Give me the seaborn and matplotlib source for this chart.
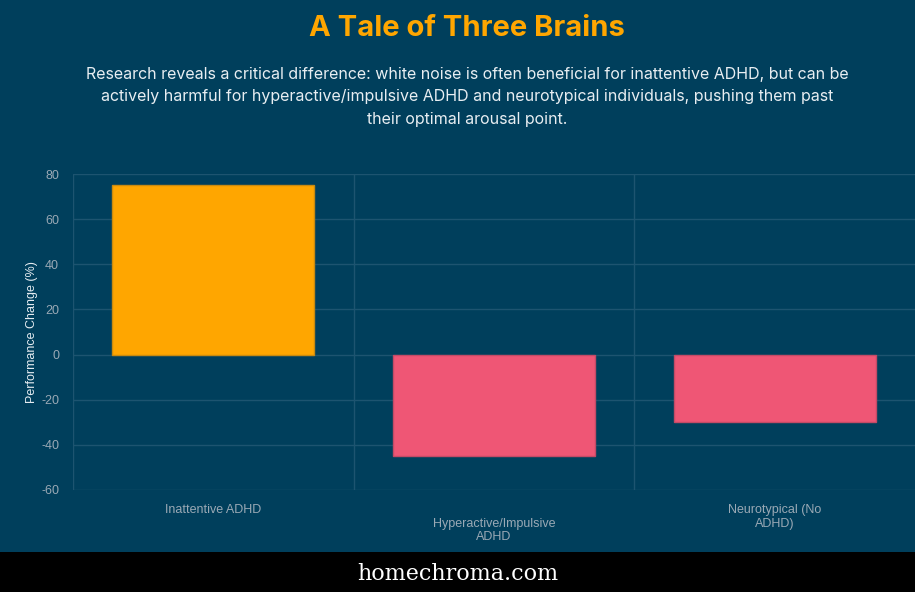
import matplotlib.pyplot as plt
import matplotlib.patches as mpatches
import pandas as pd
import seaborn as sns

# chart data
groups = ["Inattentive ADHD", "Hyperactive/Impulsive ADHD", "Neurotypical (No ADHD)"]
tick_labels = ["Inattentive ADHD", "\nHyperactive/Impulsive\nADHD", "Neurotypical (No\nADHD)"]
perf_change = [75, -45, -30]
bar_colors = ["#ffa600", "#ef5675", "#ef5675"]
edge_colors = ["#c98a10", "#c44a66", "#c44a66"]

BG = "#003f5c"
GRID = "#1d5470"

sns.set_theme(style="dark")
plt.rcParams["font.family"] = ["Inter", "DejaVu Sans"]
plt.rcParams["axes.unicode_minus"] = False

df = pd.DataFrame({"group": groups, "change": perf_change})

fig = plt.figure(figsize=(9.15, 5.92), dpi=100, facecolor=BG)
ax = fig.add_axes([73 / 915, 1 - 490 / 592, 1 - 73 / 915, 316 / 592])
ax.set_facecolor(BG)

sns.barplot(data=df, x="group", y="change", hue="group", palette=bar_colors,
            saturation=1, width=0.72, legend=False, ax=ax, zorder=3)
for patch, ec in zip(ax.patches, edge_colors):
    patch.set_edgecolor(ec)
    patch.set_linewidth(1.0)

ax.set_xlim(-0.5, 2.5)
ax.set_ylim(-60, 80)
ax.set_yticks(range(-60, 81, 20))
ax.set_xticks([0, 1, 2])
ax.set_xticklabels(tick_labels, linespacing=1.2)
ax.set_xticks([0.5, 1.5], minor=True)

for s in ax.spines.values():
    s.set_visible(False)
ax.axvline(-0.5, color=GRID, lw=1, zorder=1)

ax.grid(axis="y", color=GRID, lw=1, zorder=1)
ax.grid(axis="x", which="minor", color=GRID, lw=1, zorder=1)
ax.grid(axis="x", which="major", visible=False)
ax.tick_params(axis="y", length=7, color=GRID, labelsize=9, labelcolor="#9aa9b5", pad=3)
ax.tick_params(axis="x", which="major", length=0, labelsize=9, labelcolor="#9aa9b5", pad=10)
ax.tick_params(axis="x", which="minor", length=7, color=GRID)
for lbl in ax.get_xticklabels() + ax.get_yticklabels():
    lbl.set_family(["Liberation Sans", "DejaVu Sans"])

ax.set_xlabel("")
ax.set_ylabel("Performance Change (%)", color="#e6edf2", fontsize=9,
              family=["Liberation Sans", "DejaVu Sans"], labelpad=2)

# titles (page centre sits a little right of the image centre)
cx = 467 / 915
fig.text(cx, 1 - 28 / 592, "A Tale of Three Brains", ha="center", va="center",
         color="#ffa600", fontsize=21, fontweight="bold")
fig.text(cx, 1 - 97 / 592,
         "Research reveals a critical difference: white noise is often beneficial for inattentive ADHD, but can be\n"
         "actively harmful for hyperactive/impulsive ADHD and neurotypical individuals, pushing them past\n"
         "their optimal arousal point.",
         ha="center", va="center", color="#e8eef2", fontsize=11.5, linespacing=1.65)

# footer band
fig.patches.append(mpatches.Rectangle((0, 0), 1, 40 / 592, transform=fig.transFigure,
                                      facecolor="black", edgecolor="none", zorder=0))
fig.text(0.5, 1 - 574 / 592, "homechroma.com", ha="center", va="center",
         color="white", fontsize=16, family=["DejaVu Serif"])

fig.savefig("out.png", dpi=100, facecolor=BG)
